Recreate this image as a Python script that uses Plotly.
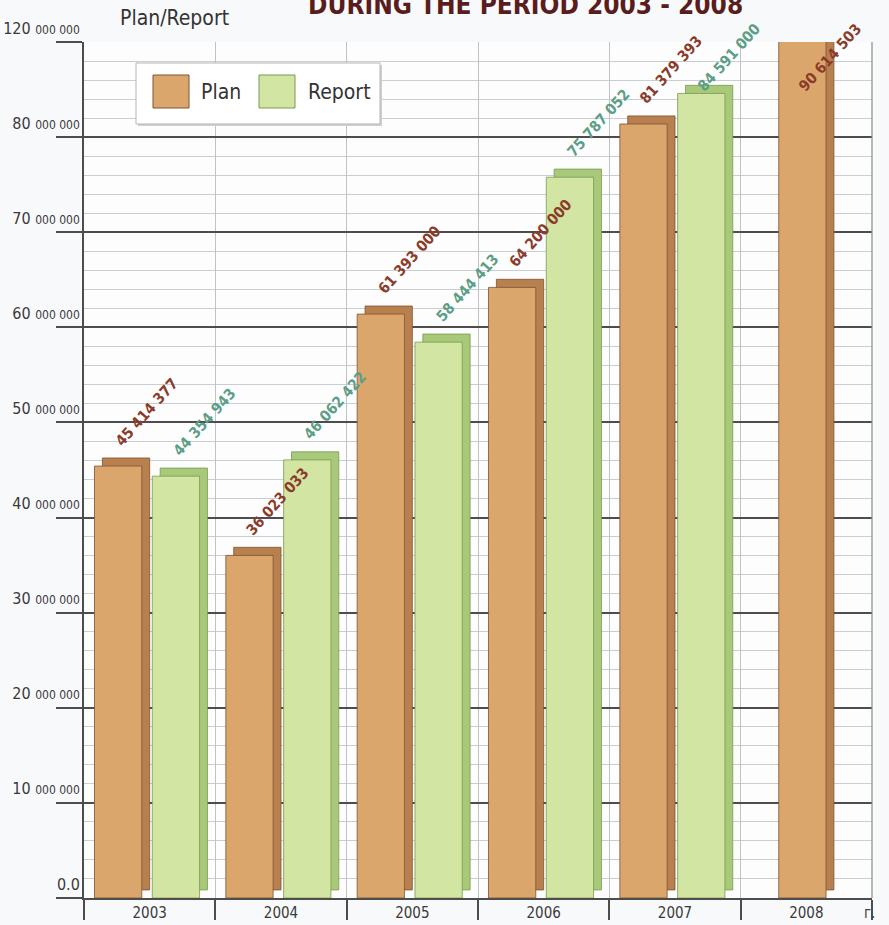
import plotly.graph_objects as go

# ── Data ─────────────────────────────────────────────────────────────────────
years = ["2003", "2004", "2005", "2006", "2007", "2008"]
plan = [45414377, 36023033, 61393000, 64200000, 81379393, 90614503]
report = [44354943, 46062422, 58444413, 75787052, 84591000, None]

y_tickvals = [0, 10e6, 20e6, 30e6, 40e6, 50e6, 60e6, 70e6, 80e6, 90e6]
y_ticklead = ["0.0", "10", "20", "30", "40", "50", "60", "70", "80", "120"]

# ── Style ────────────────────────────────────────────────────────────────────
NARROW = "Liberation Sans Narrow, DejaVu Sans Condensed, Arial Narrow, sans-serif"
C_PLAN = "#dba66c"
C_PLAN_DARK = "#b9804f"
C_PLAN_EDGE = "#7e5232"
C_REP = "#d2e5a2"
C_REP_DARK = "#a9c97a"
C_REP_EDGE = "#789a4e"
C_PLAN_TXT = "#8a3b2a"
C_REP_TXT = "#5c9e86"
C_GRID_MAJ = "#4d4d4d"
C_GRID_MIN = "#c9ced3"

W, DX = 0.36, 0.06          # bar width / depth (category units)
DY = 0.85e6                  # bar depth (value units)
PLAN_OFF, REP_OFF = -0.42, 0.02
YMAX = 90e6
LABEL_CAP = 83.5e6           # keep the rotated labels inside the page

plan_off = [PLAN_OFF if r is not None else -(W + DX) / 2 for r in report]
rep_off = [REP_OFF] * len(years)


def fmt(v):
    return f"{v:,}".replace(",", " ")


def tick_text(lead):
    if lead == "0.0":
        return lead
    return f"{lead} <span style='font-size:12px'>000 000</span>"


fig = go.Figure()

# depth faces first so the fronts sit on top
for vals, offs, dark, edge in [(plan, plan_off, C_PLAN_DARK, C_PLAN_EDGE),
                               (report, rep_off, C_REP_DARK, C_REP_EDGE)]:
    fig.add_trace(go.Bar(
        x=years, y=vals, base=DY, width=W, offset=[o + DX for o in offs],
        marker={"color": dark, "line": {"color": edge, "width": 0.8}},
        hoverinfo="skip", showlegend=False,
    ))

for name, vals, offs, col, edge in [("Plan", plan, plan_off, C_PLAN, C_PLAN_EDGE),
                                    ("Report", report, rep_off, C_REP, C_REP_EDGE)]:
    fig.add_trace(go.Bar(
        x=years, y=vals, width=W, offset=offs, name=name,
        marker={"color": col, "line": {"color": edge, "width": 0.8}},
        showlegend=False,
    ))

# rotated value labels
for vals, offs, col in [(plan, plan_off, C_PLAN_TXT), (report, rep_off, C_REP_TXT)]:
    for i, v in enumerate(vals):
        if v is None:
            continue
        fig.add_annotation(
            x=i + offs[i] + W * 0.3, y=min(v + DY, LABEL_CAP), xref="x", yref="y",
            text=f"<b>{fmt(v)}</b>", showarrow=False, textangle=-48,
            xanchor="left", yanchor="bottom", yshift=6,
            font={"family": NARROW, "size": 15, "color": col},
        )

# legend box drawn by hand (big square swatches)
def px(x):
    return (x - 84) / 788


def py(y):
    return (898 - y) / 856


fig.add_shape(type="rect", xref="paper", yref="paper", layer="above",
              x0=px(138), x1=px(382), y0=py(126), y1=py(65),
              line={"width": 0}, fillcolor="#d0d0d0")
fig.add_shape(type="rect", xref="paper", yref="paper", layer="above",
              x0=px(136), x1=px(380), y0=py(124), y1=py(63),
              line={"color": "#b5b5b5", "width": 1}, fillcolor="#ffffff")
for x0, col, edge, label, tx in [(153, C_PLAN, C_PLAN_EDGE, "Plan", 199),
                                 (259, C_REP, C_REP_EDGE, "Report", 306)]:
    fig.add_shape(type="rect", xref="paper", yref="paper", layer="above",
                  x0=px(x0), x1=px(x0 + 36), y0=py(108), y1=py(75),
                  line={"color": edge, "width": 1}, fillcolor=col)
    fig.add_annotation(x=px(tx), y=py(92), xref="paper", yref="paper",
                       text=label, showarrow=False, xanchor="left", yanchor="middle",
                       font={"family": NARROW, "size": 21, "color": "#333333"})

# header texts
fig.add_annotation(x=px(525), y=1, xref="paper", yref="paper", yshift=20,
                   text="<b>DURING THE PERIOD 2003 - 2008</b>", showarrow=False,
                   xanchor="center", yanchor="bottom",
                   font={"family": NARROW, "size": 26, "color": "#5a1d1d"})
fig.add_annotation(x=px(118), y=py(18), xref="paper", yref="paper",
                   text="Plan/Report", showarrow=False, xanchor="left", yanchor="middle",
                   font={"family": NARROW, "size": 21, "color": "#333333"})
fig.add_annotation(x=px(862), y=py(913), xref="paper", yref="paper",
                   text="г.", showarrow=False, xanchor="left", yanchor="middle",
                   font={"family": NARROW, "size": 15, "color": "#444444"})

fig.update_layout(
    width=889, height=925,
    margin={"l": 84, "r": 17, "t": 42, "b": 27, "autoexpand": False},
    paper_bgcolor="#f8f9fb", plot_bgcolor="#fdfdfe",
    barmode="overlay", showlegend=False,
    font={"family": NARROW, "color": "#3a3a3a"},
    xaxis={
        "type": "category", "tickson": "boundaries", "automargin": False,
        "showgrid": True, "gridcolor": "#bfc3c7", "gridwidth": 1,
        "ticks": "outside", "ticklen": 20, "tickcolor": C_GRID_MAJ, "tickwidth": 1.5,
        "ticklabelstandoff": 0,
        "tickfont": {"size": 15, "color": "#3a3a3a"},
        "showline": True, "linecolor": C_GRID_MAJ, "linewidth": 2, "mirror": False,
    },
    yaxis={
        "range": [0, YMAX], "tickmode": "array", "automargin": False,
        "tickvals": y_tickvals, "ticktext": [tick_text(t) for t in y_ticklead],
        "showgrid": True, "gridcolor": C_GRID_MAJ, "gridwidth": 1.5,
        "zeroline": False,
        "ticks": "outside", "ticklen": 26, "tickcolor": C_GRID_MAJ, "tickwidth": 1.5,
        "ticklabelstandoff": -27, "ticklabelshift": -14,
        "tickfont": {"size": 16, "color": "#3a3a3a"},
        "showline": True, "linecolor": C_GRID_MAJ, "linewidth": 2,
        "minor": {"dtick": 2e6, "showgrid": True, "gridcolor": C_GRID_MIN, "gridwidth": 1},
    },
)
# right-hand frame line
fig.add_shape(type="line", xref="paper", yref="paper", x0=1, x1=1, y0=0, y1=1,
              line={"color": "#8a8a8a", "width": 1.2}, layer="above")

# drop the browser's default 8px body margin so the figure fills the window
fig.write_html("out.html", config={"displayModeBar": False},
               post_script="document.body.style.margin='0';")
